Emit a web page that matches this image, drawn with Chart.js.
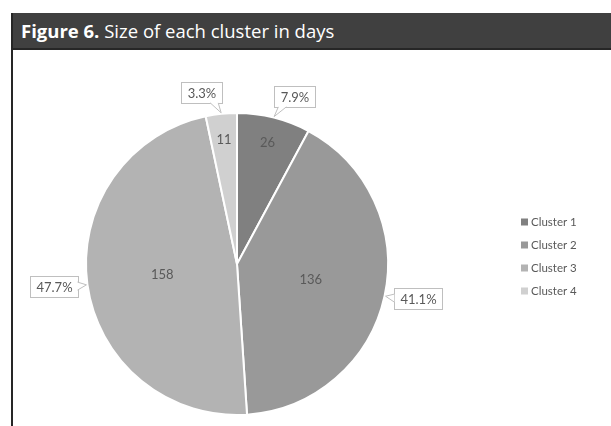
<!DOCTYPE html>
<html>
<head>
<meta charset="utf-8">
<script src="https://cdn.jsdelivr.net/npm/chart.js@4.4.1/dist/chart.umd.min.js"></script>
<style>
    body { margin: 0; background: #fff; width: 611px; height: 426px; overflow: hidden; position: relative; }
    #frame { position: absolute; left: 11px; top: 13px; width: 600px; height: 413px; border-left: 2px solid #262626; }
    #header { height: 35px; background: #404040; border-bottom: 2px solid #262626; color: #fff;
              font-family: 'Open Sans', sans-serif; font-size: 18.5px; line-height: 35px; padding-left: 8px; white-space: nowrap; }
    #header b { font-weight: 700; }
    #chart { position: absolute; left: 13px; top: 50px; }
</style>
</head>
<body>
<div id="frame">
    <div id="header"><b>Figure 6.</b> Size of each cluster in days</div>
</div>
<canvas id="chart" width="598" height="376"></canvas>
<script>
// cluster sizes (days)
const clusters = ['Cluster 1', 'Cluster 2', 'Cluster 3', 'Cluster 4'];
const days = [26, 136, 158, 11];
const percentLabels = ['7.9%', '41.1%', '47.7%', '3.3%'];
const sliceColors = ['#808080', '#999999', '#b3b3b3', '#d0d0d0'];

const TEXT_COLOR = '#595959';
const FONT = "13px Lato, 'Open Sans', sans-serif";

/**
 * Value labels inside slices, percentage callouts outside, legend on the right
 */
const labelPlugin = {
    id: 'pieLabels',
    afterDatasetsDraw(chart) {
        const ctx = chart.ctx;
        const meta = chart.getDatasetMeta(0);
        const total = days.reduce((a, b) => a + b, 0);

        ctx.save();
        ctx.font = FONT;
        ctx.textBaseline = 'middle';
        ctx.textAlign = 'center';

        meta.data.forEach((arc, i) => {
            const { x, y, startAngle, endAngle, outerRadius } =
                arc.getProps(['x', 'y', 'startAngle', 'endAngle', 'outerRadius'], true);
            const mid = (startAngle + endAngle) / 2;
            const dx = Math.cos(mid);
            const dy = Math.sin(mid);

            // value inside the slice
            const small = days[i] / total < 0.15;
            let vx, vy;
            if (small) {
                vx = x + dx * outerRadius * 0.83;
                vy = y + dy * outerRadius * 0.83;
            } else {
                const p = arc.tooltipPosition(true);
                vx = p.x;
                vy = p.y;
            }
            ctx.fillStyle = TEXT_COLOR;
            ctx.fillText(String(days[i]), vx, vy);

            // percentage callout
            const text = percentLabels[i];
            const w = Math.round(ctx.measureText(text).width) + 12;
            const h = 21;
            const ax = x + dx * (outerRadius + 10);
            const ay = y + dy * (outerRadius + 10);
            const tipX = x + dx * (outerRadius + 1);
            const tipY = y + dy * (outerRadius + 1);
            let left, top, base;
            if (Math.abs(dx) > Math.abs(dy)) {
                top = ay - h / 2;
                left = dx > 0 ? ax : ax - w;
                const edge = dx > 0 ? left : left + w;
                const cy = Math.min(Math.max(ay, top + 6), top + h - 6);
                base = [[edge, cy - 4], [edge, cy + 4]];
            } else {
                top = dy < 0 ? ay - 1 - h : ay + 1;
                left = dx > 0 ? ax - 2 : ax + 2 - w;
                const edge = dy < 0 ? top + h : top;
                base = dx > 0
                    ? [[left + 4, edge], [left + 12, edge]]
                    : [[left + w - 12, edge], [left + w - 4, edge]];
            }
            left = Math.round(left) + 0.5;
            top = Math.round(top) + 0.5;

            ctx.fillStyle = '#fff';
            ctx.strokeStyle = '#bfbfbf';
            ctx.lineWidth = 1;
            ctx.fillRect(left, top, w, h);
            ctx.strokeRect(left, top, w, h);

            ctx.beginPath();
            ctx.moveTo(base[0][0], base[0][1]);
            ctx.lineTo(tipX, tipY);
            ctx.lineTo(base[1][0], base[1][1]);
            ctx.closePath();
            ctx.fill();
            ctx.beginPath();
            ctx.moveTo(base[0][0], base[0][1]);
            ctx.lineTo(tipX, tipY);
            ctx.lineTo(base[1][0], base[1][1]);
            ctx.stroke();

            ctx.fillStyle = TEXT_COLOR;
            ctx.fillText(text, left + w / 2, top + h / 2 + 0.5);
        });

        // legend
        ctx.textAlign = 'left';
        ctx.font = "11.5px Lato, 'Open Sans', sans-serif";
        clusters.forEach((name, i) => {
            const ly = 172 + i * 23;
            ctx.fillStyle = sliceColors[i];
            ctx.fillRect(508, ly - 3.5, 7, 7);
            ctx.fillStyle = TEXT_COLOR;
            ctx.fillText(name, 518, ly);
        });
        ctx.restore();
    }
};

new Chart(document.getElementById('chart'), {
    type: 'pie',
    data: {
        labels: clusters,
        datasets: [{
            data: days,
            backgroundColor: sliceColors,
            borderColor: '#ffffff',
            borderWidth: 2
        }]
    },
    options: {
        responsive: false,
        animation: false,
        layout: { padding: { left: 72, right: 222, top: 62, bottom: 10 } },
        plugins: {
            legend: { display: false },
            tooltip: { enabled: false }
        }
    },
    plugins: [labelPlugin]
});
</script>
</body>
</html>
